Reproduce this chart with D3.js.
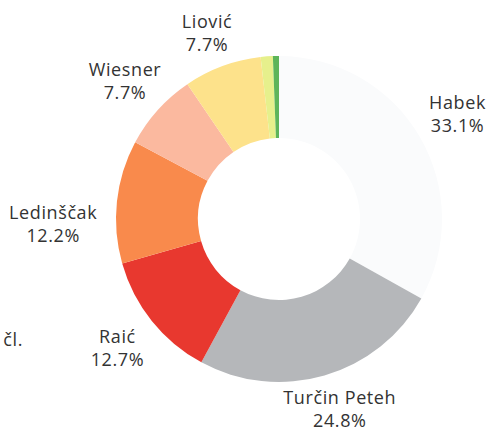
<!DOCTYPE html>
<html>
<head>
<meta charset="utf-8">
<script src="https://cdn.jsdelivr.net/npm/d3@7"></script>
<style>
  body { margin: 0; background: #fff; }
  svg text { font-family: "Open Sans", sans-serif; font-size: 18px; fill: #333; letter-spacing: 0.6px; }
</style>
</head>
<body>
<svg id="chart" width="491" height="432"></svg>
<script>
// slices, clockwise from the top
const names = ["Habek", "Turčin Peteh", "Raić", "Ledinščak", "Wiesner", "Liović", "", ""];
const shares = [33.1, 24.8, 12.7, 12.2, 7.7, 7.7, 1.2, 0.6];
const colors = ["#fafbfc", "#b5b7ba", "#e8382f", "#f98a4c", "#fbb99f", "#fde28b", "#e6f08c", "#5db55a"];

const CX = 279, CY = 219;
const R_OUT = 163, R_IN = 81, R_LABEL = 207;

// small hand offsets so labels sit where the original has them
const labelNudge = { "Ledinščak": [-20, 27], "Liović": [0, 8], "Turčin Peteh": [3, -9] };

const svg = d3.select("#chart");
const g = svg.append("g").attr("transform", `translate(${CX},${CY})`);

const pie = d3.pie().sort(null).value(d => d.v);
const arc = d3.arc().innerRadius(R_IN).outerRadius(R_OUT);
const labelArc = d3.arc().innerRadius(R_LABEL).outerRadius(R_LABEL);

const data = names.map((n, i) => ({ name: n, v: shares[i], color: colors[i] }));
const arcs = pie(data);

g.selectAll("path.slice").data(arcs)
  .enter().append("path")
  .attr("class", "slice")
  .attr("d", arc)
  .attr("fill", d => d.data.color);

const labels = g.selectAll("text.lbl").data(arcs.filter(d => d.data.name))
  .enter().append("text")
  .attr("class", "lbl")
  .attr("text-anchor", "middle")
  .attr("transform", d => {
    const [x, y] = labelArc.centroid(d);
    const nd = labelNudge[d.data.name] || [0, 0];
    return `translate(${x + nd[0]},${y + nd[1]})`;
  });
labels.append("tspan").attr("x", 0).attr("y", -5).text(d => d.data.name);
labels.append("tspan").attr("x", 0).attr("y", 18)
  .text(d => d.data.v.toFixed(1) + "%");

// cut-off text at the left edge of the page
svg.append("text").attr("x", 23).attr("y", 346).attr("text-anchor", "end").text("čl.");
</script>
</body>
</html>
